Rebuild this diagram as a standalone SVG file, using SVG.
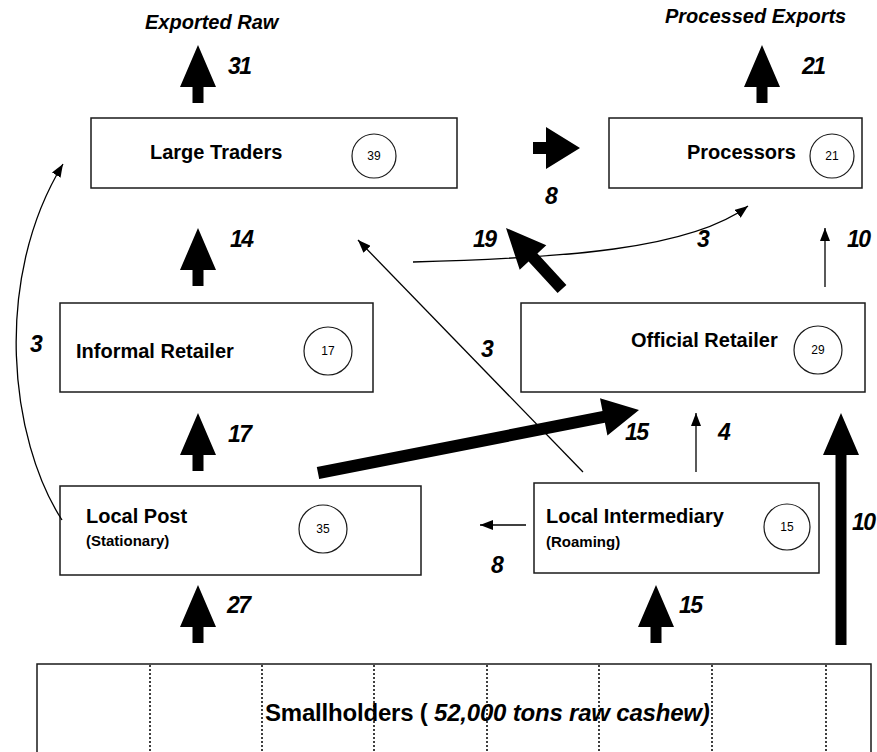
<svg xmlns="http://www.w3.org/2000/svg" xmlns:xlink="http://www.w3.org/1999/xlink" width="877" height="752" viewBox="0 0 877 752">
<style>
  .box { fill: #ffffff; stroke: #1a1a1a; stroke-width: 1.5; }
  .circ { fill: #ffffff; stroke: #1a1a1a; stroke-width: 1.2; }
  .lbl { font-family: "Liberation Sans", Arial, sans-serif; font-weight: bold; font-size: 20px; fill: #000; }
  .sub { font-family: "Liberation Sans", Arial, sans-serif; font-weight: bold; font-size: 15px; fill: #000; }
  .cnum { font-family: "Liberation Sans", Arial, sans-serif; font-size: 12px; fill: #000; text-anchor: middle; }
  .num { font-family: "Liberation Sans", Arial, sans-serif; font-weight: bold; font-style: italic; font-size: 23px; letter-spacing: -1.5px; fill: #000; }
  .head { font-family: "Liberation Sans", Arial, sans-serif; font-weight: bold; font-style: italic; font-size: 20px; fill: #000; }
  .thin { fill: none; stroke: #000; stroke-width: 1.3; marker-end: url(#ah); }
  .thick { fill: #000; stroke: none; }
  .dash { stroke: #000; stroke-width: 1.5; stroke-dasharray: 2 2; }
</style>
<defs>
  <marker id="ah" markerUnits="userSpaceOnUse" markerWidth="14" markerHeight="10" refX="13" refY="5" orient="auto">
    <path d="M0,0 L13,5 L0,10 z" fill="#000"/>
  </marker>
  <path id="bigUp" d="M0,0 L18,42 L5.5,42 L5.5,58 L-5.5,58 L-5.5,42 L-18,42 z"/>
</defs>
<rect width="877" height="752" fill="#ffffff"/>

<g id="smallholders">
  <rect class="box" x="37" y="664" width="834" height="100"/>
  <line class="dash" x1="150" y1="665" x2="150" y2="752"/>
  <line class="dash" x1="262" y1="665" x2="262" y2="752"/>
  <line class="dash" x1="374" y1="665" x2="374" y2="752"/>
  <line class="dash" x1="487" y1="665" x2="487" y2="752"/>
  <line class="dash" x1="599" y1="665" x2="599" y2="752"/>
  <line class="dash" x1="712" y1="665" x2="712" y2="752"/>
  <line class="dash" x1="826" y1="665" x2="826" y2="752"/>
  <text x="265" y="721" font-family="Liberation Sans, Arial, sans-serif" font-weight="bold" font-size="24" letter-spacing="-0.2">Smallholders ( <tspan font-style="italic">52,000 tons raw cashew)</tspan></text>
</g>

<g id="large-traders">
  <rect class="box" x="91" y="118" width="366" height="70"/>
  <text class="lbl" x="150" y="159">Large Traders</text>
  <circle class="circ" cx="374" cy="156" r="22"/>
  <text class="cnum" x="374" y="160">39</text>
</g>

<g id="processors">
  <rect class="box" x="609" y="118" width="253" height="70"/>
  <text class="lbl" x="687" y="159">Processors</text>
  <circle class="circ" cx="832" cy="156" r="22"/>
  <text class="cnum" x="832" y="160">21</text>
</g>

<g id="informal-retailer">
  <rect class="box" x="60" y="303" width="313" height="89"/>
  <text class="lbl" x="76" y="358">Informal Retailer</text>
  <circle class="circ" cx="328" cy="351" r="24"/>
  <text class="cnum" x="328" y="355">17</text>
</g>

<g id="official-retailer">
  <rect class="box" x="521" y="303" width="344" height="89"/>
  <text class="lbl" x="631" y="347">Official Retailer</text>
  <circle class="circ" cx="818" cy="350" r="24"/>
  <text class="cnum" x="818" y="354">29</text>
</g>

<g id="local-post">
  <rect class="box" x="60" y="486" width="361" height="89"/>
  <text class="lbl" x="86" y="523">Local Post</text>
  <text class="sub" x="86" y="546">(Stationary)</text>
  <circle class="circ" cx="323" cy="529" r="24"/>
  <text class="cnum" x="323" y="533">35</text>
</g>

<g id="local-intermediary">
  <rect class="box" x="534" y="483" width="285" height="90"/>
  <text class="lbl" x="546" y="523">Local Intermediary</text>
  <text class="sub" x="546" y="547">(Roaming)</text>
  <circle class="circ" cx="787" cy="527" r="23"/>
  <text class="cnum" x="787" y="531">15</text>
</g>

<g id="outputs">
  <text class="head" x="145" y="29">Exported Raw</text>
  <text class="head" x="665" y="23">Processed Exports</text>
</g>

<g id="connectors">
  <use href="#bigUp" xlink:href="#bigUp" x="198" y="45"/>
  <use href="#bigUp" xlink:href="#bigUp" x="762" y="45"/>
  <use href="#bigUp" xlink:href="#bigUp" x="198" y="228"/>
  <use href="#bigUp" xlink:href="#bigUp" x="198" y="413"/>
  <use href="#bigUp" xlink:href="#bigUp" x="198" y="585"/>
  <use href="#bigUp" xlink:href="#bigUp" x="656" y="585"/>
  <path class="thick" d="M841,413 L859,455 L846.5,455 L846.5,645 L835.5,645 L835.5,455 L823,455 z"/>
  <path class="thick" d="M533,142 L546,142 L546,127 L580,148 L546,169 L546,154 L533,154 z"/>
  <path class="thick" d="M566.4,284.9 L537.4,253.4 L546.3,245.3 L506,228 L519.7,269.7 L528.6,261.6 L557.6,293.1 z"/>
  <path class="thick" d="M319.2,478.9 L604.9,422.8 L607.4,435.5 L639,410 L600,398.3 L602.5,411 L316.8,467.1 z"/>
  <path class="thin" d="M62,520 C10,440 -8,280 63,164"/>
  <line class="thin" x1="583" y1="472" x2="358" y2="240"/>
  <path class="thin" d="M413,262 C560,258 690,250 748,206"/>
  <line class="thin" x1="825" y1="287" x2="825" y2="228"/>
  <line class="thin" x1="696" y1="472" x2="696" y2="413"/>
  <line class="thin" x1="526" y1="525" x2="480" y2="525"/>

  <text class="num" x="228" y="74">31</text>
  <text class="num" x="802" y="74">21</text>
  <text class="num" x="545" y="204">8</text>
  <text class="num" x="473" y="247">19</text>
  <text class="num" x="697" y="247">3</text>
  <text class="num" x="847" y="247">10</text>
  <text class="num" x="230" y="247">14</text>
  <text class="num" x="30" y="352">3</text>
  <text class="num" x="481" y="357">3</text>
  <text class="num" x="228" y="442">17</text>
  <text class="num" x="625" y="440">15</text>
  <text class="num" x="718" y="440">4</text>
  <text class="num" x="852" y="530">10</text>
  <text class="num" x="491" y="573">8</text>
  <text class="num" x="227" y="613">27</text>
  <text class="num" x="679" y="613">15</text>
</g>
</svg>
